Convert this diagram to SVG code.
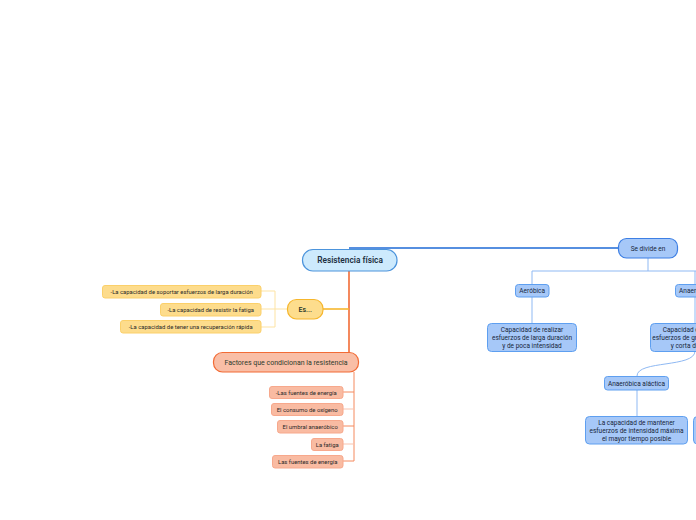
<svg xmlns="http://www.w3.org/2000/svg" width="696" height="520" viewBox="0 0 696 520">
<style>
text{font-family:Roboto,"Liberation Sans",sans-serif;text-anchor:middle;fill:#2a2a2a}
.blue rect{fill:#a6c8f8;stroke:#5e9ff0;stroke-width:1}
.blue text{font-size:6.5px;fill:#17263a}
.yel rect{fill:#fddc8c;stroke:#fbd06a;stroke-width:1}
.yel text{font-size:5.9px}
.ora rect{fill:#f9bba2;stroke:#f7a88c;stroke-width:1}
.ora text{font-size:5.9px}
.c{fill:none}
</style>
<rect width="696" height="520" fill="#fff"/>
<g id="connectors">
<path class="c" d="M349 248H618" stroke="#1e6ad6" stroke-width="1.6"/>
<path class="c" d="M349 271V352" stroke="#f26b35" stroke-width="1.6"/>
<path class="c" d="M323 309H349" stroke="#f6b62c" stroke-width="1.6"/>
<path class="c" d="M287 309H275M275 291V327M275 291H261M275 309H261M275 327H261" stroke="#fde3a3" stroke-width="1"/>
<path class="c" d="M354 372V461M354 392H343M354 426H343M354 461H343" stroke="#f58a5e" stroke-width="1"/>
<path class="c" d="M354 409H343M354 444H343" stroke="#f9c3ae" stroke-width="1"/>
<path class="c" d="M648 258V271M532 271H696M532 271V284M695 271V284M532 297V323M695 297V323M637 390V416" stroke="#8fb9f3" stroke-width="1"/>
<path class="c" d="M695 351C695 368 637 360 637 376" stroke="#8fb9f3" stroke-width="1"/>
</g>
<g id="n-central"><rect x="302.5" y="249.5" width="94.5" height="21.5" rx="10.5" fill="#cdeafd" stroke="#4c94dc" stroke-width="1.2"/><text x="350" y="263.3" style="font-size:8.3px;font-weight:600;fill:#1c2f3f">Resistencia física</text></g>
<g id="n-sedivide" class="blue"><rect x="618.5" y="238.5" width="59" height="19.5" rx="8" style="stroke:#3d7fe4;stroke-width:1.2"/><text x="648" y="250.5">Se divide en</text></g>
<g id="n-aerobica" class="blue"><rect x="515.5" y="284.5" width="33.5" height="12.5" rx="3"/><text x="532.2" y="293">Aeróbica</text></g>
<g id="n-anaerobica" class="blue"><rect x="675.5" y="284.5" width="40" height="12.5" rx="3"/><text x="695.5" y="293">Anaeróbica</text></g>
<g id="n-aer-desc" class="blue"><rect x="487.5" y="323.5" width="89" height="28" rx="4"/><text x="532" y="332">Capacidad de realizar</text><text x="532" y="340">esfuerzos de larga duración</text><text x="532" y="348">y de poca intensidad</text></g>
<g id="n-anaer-desc" class="blue"><rect x="650.5" y="323.5" width="90" height="28" rx="4"/><text x="694" y="332">Capacidad de realizar</text><text x="694" y="340">esfuerzos de gran intensidad</text><text x="694" y="348">y corta duración</text></g>
<g id="n-alactica" class="blue"><rect x="604.5" y="376.5" width="64" height="13.5" rx="3"/><text x="636.5" y="385.5">Anaeróbica aláctica</text></g>
<g id="n-alactica-desc" class="blue"><rect x="585.5" y="416.5" width="102" height="27.5" rx="4"/><text x="636.5" y="425">La capacidad de mantener</text><text x="636.5" y="433">esfuerzos de intensidad máxima</text><text x="636.5" y="441">el mayor tiempo posible</text></g>
<g id="n-lactica-desc" class="blue"><rect x="693.5" y="416.5" width="60" height="27.5" rx="4"/></g>
<g id="n-es"><rect x="287.5" y="299.5" width="35.5" height="19.5" rx="9" fill="#fddd8d" stroke="#f6b62c" stroke-width="1.2"/><text x="305.2" y="311.5" style="font-size:7px;font-weight:600;fill:#2c3b2c">Es...</text></g>
<g id="n-es1" class="yel"><rect x="102.5" y="285.5" width="158.5" height="12.5" rx="2.5"/><text x="181.7" y="293.8">-La capacidad de soportar esfuerzos de larga duración</text></g>
<g id="n-es2" class="yel"><rect x="160.5" y="303.5" width="100.5" height="12.5" rx="2.5"/><text x="210.7" y="311.8">-La capacidad de resistir la fatiga</text></g>
<g id="n-es3" class="yel"><rect x="120.5" y="320.5" width="140.5" height="12.5" rx="2.5"/><text x="190.7" y="328.8">-La capacidad de tener una recuperación rápida</text></g>
<g id="n-factores"><rect x="213.5" y="352.5" width="145" height="19.5" rx="9" fill="#f9bea6" stroke="#f26b35" stroke-width="1.2"/><text x="286" y="364.5" style="font-size:7px;fill:#2c3b2c">Factores que condicionan la resistencia</text></g>
<g id="n-f1" class="ora"><rect x="269.5" y="386.5" width="73.5" height="12" rx="2.5"/><text x="306.2" y="394.5">-Las fuentes de energía</text></g>
<g id="n-f2" class="ora"><rect x="271.5" y="403.5" width="71.5" height="12" rx="2.5"/><text x="307.2" y="411.5">El consumo de oxígeno</text></g>
<g id="n-f3" class="ora"><rect x="277.5" y="420.5" width="65.5" height="12.5" rx="2.5"/><text x="310.2" y="428.8">El umbral anaeróbico</text></g>
<g id="n-f4" class="ora"><rect x="311.5" y="438.5" width="31.5" height="12" rx="2.5"/><text x="327.2" y="446.5">La fatiga</text></g>
<g id="n-f5" class="ora"><rect x="272.5" y="455.5" width="70.5" height="12.5" rx="2.5"/><text x="307.7" y="463.8">Las fuentes de energía</text></g>
</svg>
